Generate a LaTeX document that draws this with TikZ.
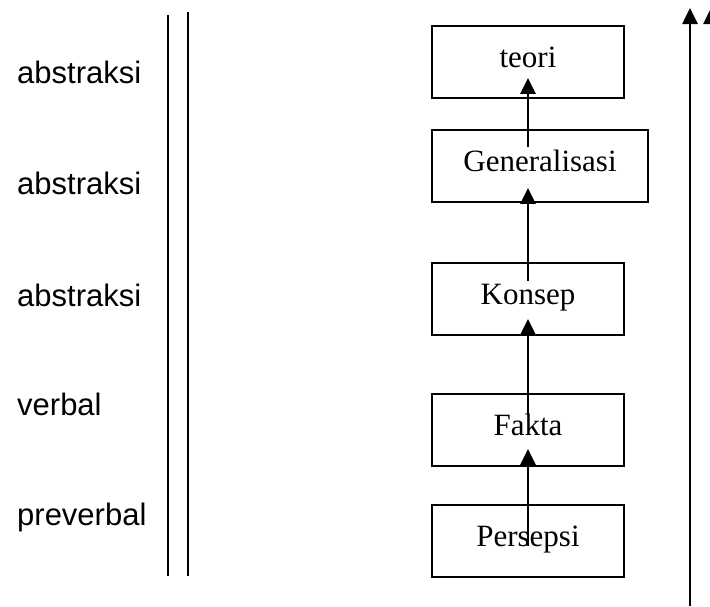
\documentclass[tikz,border=0pt]{standalone}
\usepackage{fontspec}
\setmainfont{Liberation Serif}
\newfontfamily\labelfont{Liberation Sans}
\usetikzlibrary{positioning, arrows.meta, calc}

\begin{document}
\begin{tikzpicture}[
    x=1pt, y=-1pt,
    box/.style={
      rectangle, draw=black, line width=1.8pt,
      minimum height=72pt, minimum width=192pt, inner sep=0pt,
      text height=21pt, text depth=10pt,
      font=\fontsize{31}{37}\selectfont
    },
    level/.style={
      anchor=base west, inner sep=0pt,
      font=\labelfont\fontsize{31}{37}\selectfont
    },
    arr/.style={-{Triangle[length=16pt 0 0, width=15pt 0 0]}, line width=2.6pt}
  ]
    \useasboundingbox (0,0) rectangle (710,606);

    % stages, bottom to top
    \node[box] (persepsi) at (528,541) {Persepsi};
    \node[box] (fakta) at (528,430) {Fakta};
    \node[box] (konsep) at (528,299) {Konsep};
    \node[box, minimum width=216pt] (gen) at (540,166) {Generalisasi};
    \node[box] (teori) at (528,62) {teori};

    \draw[arr] ([yshift=-42pt]persepsi.north) -- ([yshift=18pt]fakta.south);
    \draw[arr] ([yshift=-21pt]fakta.north) -- ([yshift=17pt]konsep.south);
    \draw[arr] ([yshift=-19pt]konsep.north) -- ($(konsep.north |- gen.south)+(0,15pt)$);
    \draw[arr] ($(teori.south |- gen.north)+(0,-18pt)$) -- ([yshift=21pt]teori.south);

    % levels on the left
    \node[level] (lv5) at (17,83) {abstraksi};
    \node[level] (lv4) at (17,194) {abstraksi};
    \node[level] (lv3) at (17,306) {abstraksi};
    \node[level] (lv2) at (17,415) {verbal};
    \node[level] (lv1) at (17,525) {preverbal};

    \draw[line width=1.7pt] (168,15) -- (168,576);
    \draw[line width=1.7pt] (188,12) -- (188,576);

    % long arrows on the right
    \coordinate (up1 base) at (690,606);
    \coordinate (up1 top) at (690,8);
    \coordinate (up2 base) at (711,606);
    \coordinate (up2 top) at (711,8);
    \draw[arr] (up1 base) -- (up1 top);
    \draw[arr] (up2 base) -- (up2 top);
  \end{tikzpicture}
\end{document}
